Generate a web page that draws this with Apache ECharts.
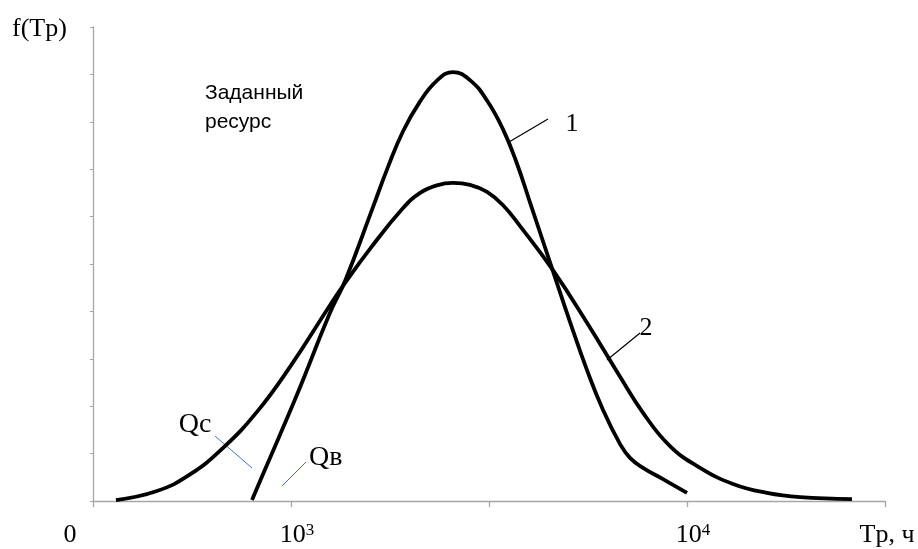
<!DOCTYPE html>
<html>
<head>
<meta charset="utf-8">
<script src="https://cdn.jsdelivr.net/npm/echarts@6/dist/echarts.min.js"></script>
<style>html,body{margin:0;padding:0;background:#fff;}#c{width:918px;height:549px;}</style>
</head>
<body>
<div id="c"></div>
<script>
// x in relative units (0..400 ~ log-scaled resource axis), y relative density (0..10)
var curve1X = [80.3, 85.9, 103.0, 119.7, 127.3, 141.4, 149.0, 156.6, 165.2, 173.7, 181.8, 190.4, 199.0, 207.1, 214.1, 220.7, 232.3, 240.9, 249.5, 257.6, 266.2, 271.2, 277.8, 287.9, 300.0];
var curve1Y = [0.02, 0.57, 2.24, 3.97, 4.64, 6.20, 7.05, 7.80, 8.43, 8.87, 9.05, 8.88, 8.45, 7.84, 7.12, 6.30, 4.85, 3.78, 2.76, 1.92, 1.20, 0.91, 0.70, 0.46, 0.17];
var curve2X = [11.6, 32.3, 49.0, 65.7, 82.8, 99.5, 119.7, 127.3, 139.9, 156.6, 165.2, 173.7, 181.8, 190.4, 199.0, 207.1, 215.7, 232.3, 249.5, 266.2, 277.8, 291.4, 306.6, 323.2, 340.4, 357.1, 383.3];
var curve2Y = [0.02, 0.21, 0.56, 1.12, 1.88, 2.83, 4.13, 4.60, 5.32, 6.18, 6.50, 6.66, 6.71, 6.67, 6.52, 6.24, 5.80, 4.87, 3.76, 2.62, 1.86, 1.16, 0.70, 0.36, 0.17, 0.08, 0.04];
var xTickValues = [0, 100, 200, 300, 400];
var xTickLabels = ['0', '10|3', '', '10|4', ''];
var seriesNames = ['1', '2'];

function pairs(xs, ys) { return xs.map(function (x, i) { return [x, ys[i]]; }); }

var SERIF = '"Liberation Serif", "Times New Roman", serif';
var SANS = '"Liberation Sans", Arial, sans-serif';

var chart = echarts.init(document.getElementById('c'), null, { renderer: 'canvas' });
chart.setOption({
  animation: false,
  backgroundColor: '#fff',
  grid: { left: 93, right: 33, top: 27, bottom: 48 },
  xAxis: {
    type: 'value', min: 0, max: 400, interval: 100,
    splitLine: { show: false },
    axisLine: { lineStyle: { color: '#a6a6a6', width: 1.3 } },
    axisTick: { length: 6, lineStyle: { color: '#a6a6a6', width: 1.3 } },
    axisLabel: {
      margin: 21,
      formatter: function (v) {
        var idx = xTickValues.indexOf(v);
        var t = idx >= 0 ? xTickLabels[idx] : '';
        if (!t) return '';
        if (t === '0') return '{zero|0}';
        var p = t.split('|');
        return '{base|' + p[0] + '}{sup|' + p[1] + '}';
      },
      rich: {
        zero: { fontFamily: SERIF, fontSize: 26, color: '#000', padding: [0, 46, 0, 0] },
        base: { fontFamily: SERIF, fontSize: 26, color: '#000', padding: [0, 0, 0, 12] },
        sup: { fontFamily: SERIF, fontSize: 17, color: '#000', verticalAlign: 'top', padding: [0, 0, 8, 0] }
      }
    }
  },
  yAxis: {
    type: 'value', min: 0, max: 10, interval: 1,
    splitLine: { show: false },
    axisLine: { show: true, lineStyle: { color: '#a6a6a6', width: 1.3 } },
    axisTick: { show: true, length: 3, lineStyle: { color: '#a6a6a6', width: 1 } },
    axisLabel: { show: false }
  },
  series: [
    { name: seriesNames[0], type: 'line', data: pairs(curve1X, curve1Y), smooth: 0.45, showSymbol: false, symbol: 'none',
      lineStyle: { color: '#000', width: 3.8 } },
    { name: seriesNames[1], type: 'line', data: pairs(curve2X, curve2Y), smooth: 0.45, showSymbol: false, symbol: 'none',
      lineStyle: { color: '#000', width: 3.8 } }
  ],
  graphic: [
    { type: 'text', left: 12, top: 16, style: { text: 'f(Tp)', font: '26px ' + SERIF, fill: '#000' } },
    { type: 'text', x: 887, y: 535, style: { text: 'Tp, ч', font: '26px ' + SERIF, fill: '#000', align: 'center', verticalAlign: 'middle' } },
    { type: 'text', x: 205, y: 79, style: { text: 'Заданный\nресурс', font: '21px ' + SANS, fill: '#000', lineHeight: 29, verticalAlign: 'top' } },
    { type: 'line', shape: { x1: 509, y1: 142, x2: 548, y2: 119 }, style: { stroke: '#000', lineWidth: 1.2 } },
    { type: 'text', x: 572, y: 124, style: { text: '1', font: '26px ' + SERIF, fill: '#000', align: 'center', verticalAlign: 'middle' } },
    { type: 'line', shape: { x1: 607, y1: 360, x2: 640, y2: 333 }, style: { stroke: '#000', lineWidth: 1.2 } },
    { type: 'text', x: 646, y: 328, style: { text: '2', font: '26px ' + SERIF, fill: '#000', align: 'center', verticalAlign: 'middle' } },
    { type: 'line', shape: { x1: 215, y1: 436, x2: 252, y2: 468 }, style: { stroke: '#4472c4', lineWidth: 1 } },
    { type: 'text', x: 195, y: 425, style: { text: 'Qc', font: '28px ' + SERIF, fill: '#000', align: 'center', verticalAlign: 'middle' } },
    { type: 'line', shape: { x1: 306, y1: 462, x2: 282, y2: 486 }, style: { stroke: '#4472c4', lineWidth: 1 } },
    { type: 'text', x: 309, y: 458, style: { text: 'Qв', font: '28px ' + SERIF, fill: '#000', align: 'left', verticalAlign: 'middle' } }
  ]
});
</script>
</body>
</html>
